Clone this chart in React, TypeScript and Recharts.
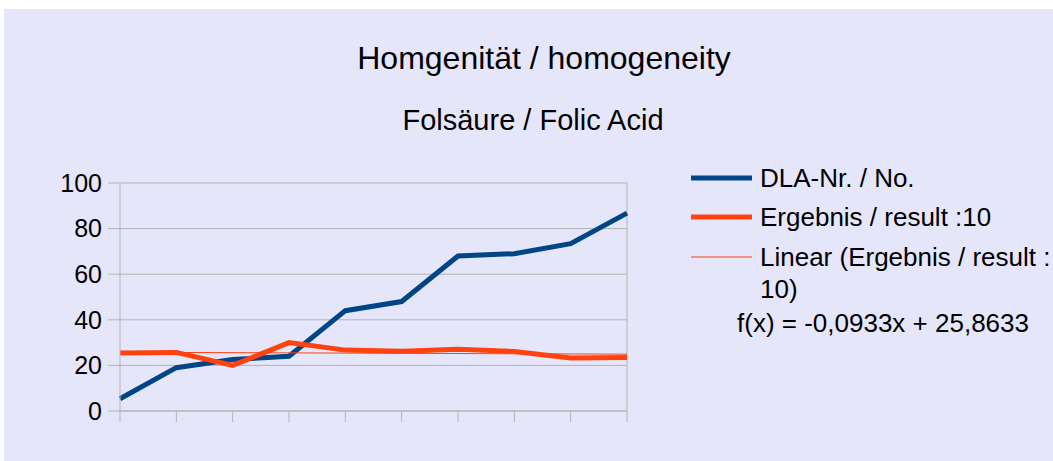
import React from 'react';
import { LineChart, Line, XAxis, YAxis, CartesianGrid, ReferenceLine } from 'recharts';

const categories = ['1', '2', '3', '4', '5', '6', '7', '8', '9', '10'];
const dlaValues = [5.4, 19, 22.6, 24, 44, 48, 68, 69, 73.4, 86.8];
const resultValues = [25.4, 25.7, 20, 30, 26.7, 26.2, 27.1, 26.1, 23.2, 23.5];
const trendValues = [25.77, null, null, null, null, null, null, null, null, 24.93];
const yTicks = [0, 20, 40, 60, 80, 100];

const seriesNames = ['DLA-Nr. / No.', 'Ergebnis / result :10', 'Linear (Ergebnis / result :\n10)'];
const trendFormula = 'f(x) = -0,0933x + 25,8633';
const title = 'Homgenität / homogeneity';
const subtitle = 'Folsäure / Folic Acid';

const BLUE = '#004586';
const ORANGE = '#ff420e';
const GRID = '#b3b3b3';
const FONT = '"Liberation Sans", Arial, sans-serif';

const data = categories.map((c, i) => ({
  cat: c,
  dla: dlaValues[i],
  result: resultValues[i],
  trend: trendValues[i],
}));

const legendItems = [
  { name: seriesNames[0], color: BLUE, width: 5, top: 153 },
  { name: seriesNames[1], color: ORANGE, width: 5, top: 192 },
  { name: seriesNames[2], color: ORANGE, width: 1, top: 232 },
];

const LegendBox = () => (
  <div style={{ position: 'absolute', left: 0, top: 0, width: 1049, height: 452, fontFamily: FONT, fontSize: 26, color: '#000' }}>
    {legendItems.map((it, i) => (
      <div key={i} style={{ position: 'absolute', left: 687, top: it.top, display: 'flex', alignItems: 'flex-start' }}>
        <svg width={62} height={32} style={{ flex: 'none' }}>
          <line x1={0} x2={61} y1={16} y2={16} stroke={it.color} strokeWidth={it.width} />
        </svg>
        <div style={{ flex: 'none', marginLeft: 7, lineHeight: '32px', whiteSpace: 'pre' }}>{it.name}</div>
      </div>
    ))}
    <div style={{ position: 'absolute', left: 733, top: 298, lineHeight: '32px', whiteSpace: 'nowrap' }}>{trendFormula}</div>
  </div>
);

export default function App() {
  return (
    <>
      <style>{'html,body{margin:0;padding:0;overflow:hidden;background:#fff;}'}</style>
      <div style={{ position: 'absolute', left: 4, top: 9, width: 1049, height: 452, background: '#e6e6fa', overflow: 'hidden' }}>
        <div style={{ position: 'absolute', left: 0, width: 1080, top: 31, textAlign: 'center', fontFamily: FONT, fontSize: 32, color: '#000', lineHeight: 1.15 }}>
          {title}
        </div>
        <div style={{ position: 'absolute', left: 0, width: 1058, top: 95, textAlign: 'center', fontFamily: FONT, fontSize: 29, color: '#000', lineHeight: 1.15 }}>
          {subtitle}
        </div>
        <LineChart
          width={1049}
          height={452}
          data={data}
          margin={{ top: 174, right: 426, bottom: 30, left: 56 }}
          style={{ position: 'absolute', left: 0, top: 0 }}
        >
          <CartesianGrid vertical={false} stroke={GRID} strokeWidth={1} />
          <XAxis
            dataKey="cat"
            tickFormatter={() => ''}
            tickSize={11}
            height={20}
            stroke={GRID}
            axisLine={{ stroke: GRID }}
            tickLine={{ stroke: GRID }}
            interval={0}
          />
          <YAxis
            domain={[0, 100]}
            ticks={yTicks}
            width={60}
            tickSize={12}
            tickMargin={6}
            axisLine={{ stroke: GRID }}
            tickLine={{ stroke: GRID }}
            tick={{ fill: '#000', fontSize: 25, fontFamily: FONT }}
          />
          <ReferenceLine x="10" stroke={GRID} strokeWidth={1} />
          <Line type="linear" dataKey="dla" stroke={BLUE} strokeWidth={5} dot={false} isAnimationActive={false} />
          <Line type="linear" dataKey="result" stroke={ORANGE} strokeWidth={5} dot={false} isAnimationActive={false} />
          <Line type="linear" dataKey="trend" stroke={ORANGE} strokeWidth={1} dot={false} connectNulls isAnimationActive={false} />
        </LineChart>
        <LegendBox />
      </div>
    </>
  );
}
